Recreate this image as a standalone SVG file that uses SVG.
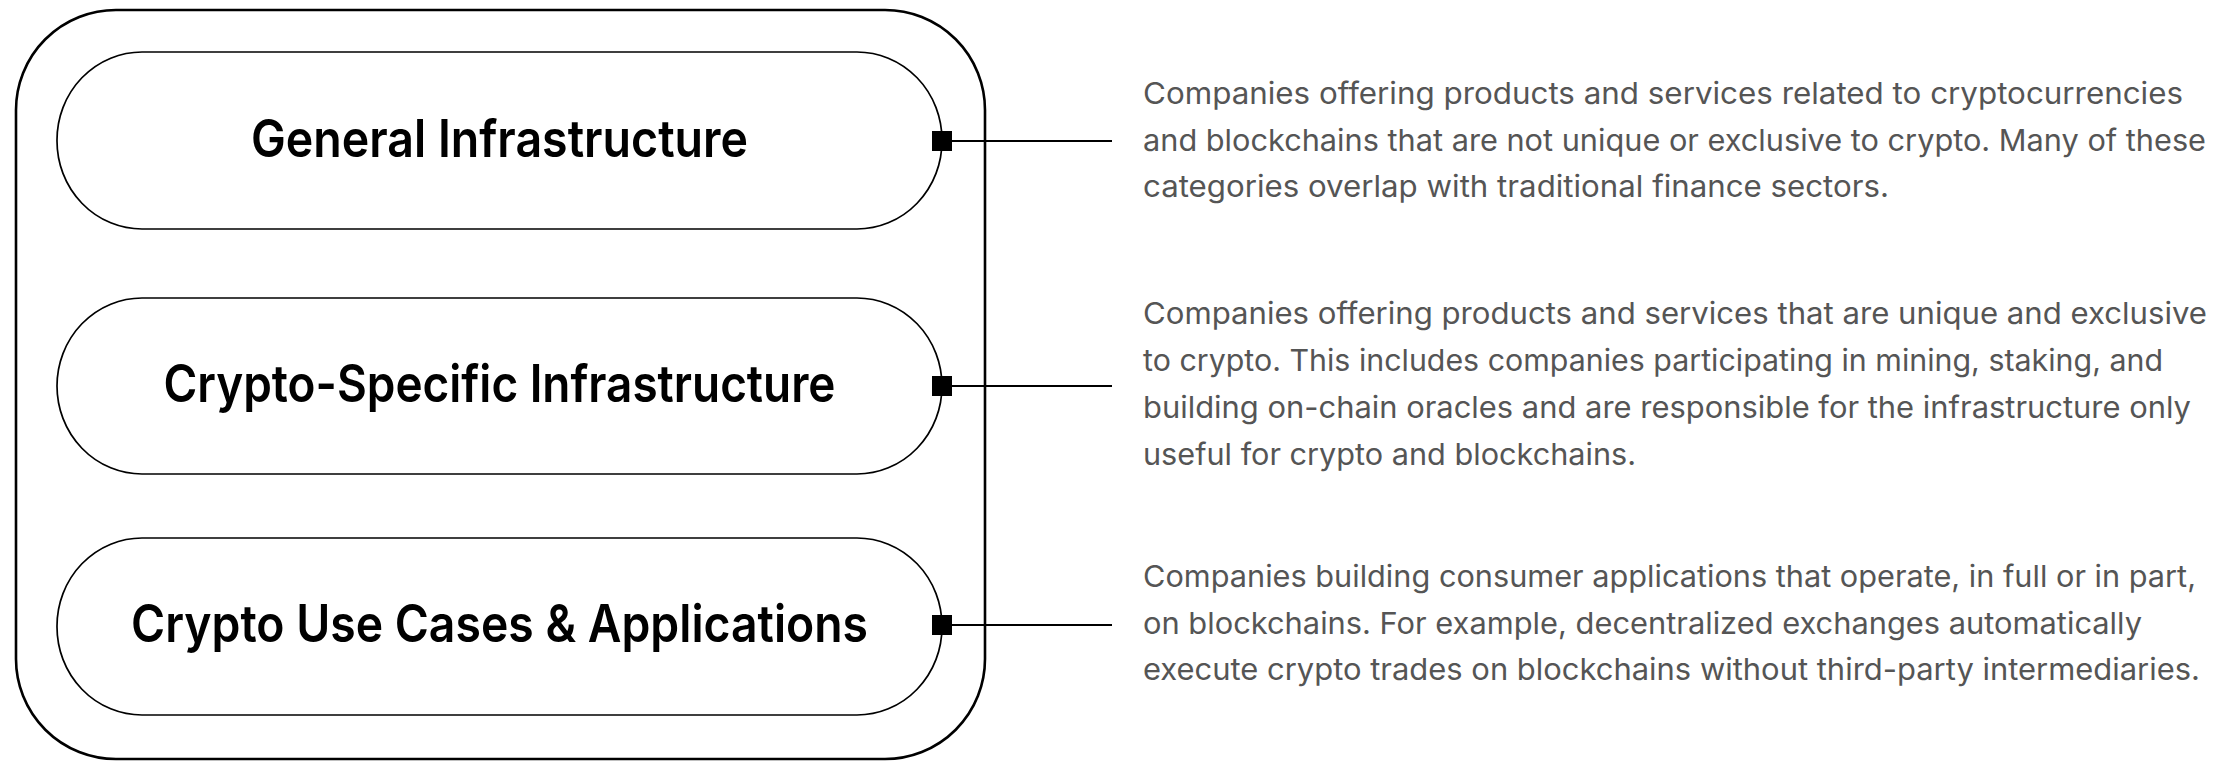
<svg xmlns="http://www.w3.org/2000/svg" width="2227" height="761" viewBox="0 0 2227 761">
<style>
.outer{fill:none;stroke:#000;stroke-width:2.6}
.pill{fill:#fff;stroke:#000;stroke-width:1.7}
.label{font-family:Inter,"Liberation Sans",sans-serif;font-weight:600;font-size:52px;fill:#000;text-anchor:middle}
.desc{font-family:Inter,"Liberation Sans",sans-serif;font-weight:400;font-size:30px;fill:#555555}
.conn{stroke:#000;stroke-width:1.8;fill:none}
.dot{fill:#000}
</style>
<rect width="2227" height="761" fill="#fff"/>
<g id="container">
<rect class="outer" x="16" y="10" width="969" height="749" rx="100" ry="100"/>
</g>
<g id="node-general">
<rect class="pill" x="57" y="52" width="885" height="177" rx="85" ry="88"/>
<text class="label" x="499.5" y="157" textLength="497" lengthAdjust="spacingAndGlyphs">General Infrastructure</text>
</g>
<g id="node-crypto-specific">
<rect class="pill" x="57" y="298" width="885" height="176" rx="85" ry="88"/>
<text class="label" x="499.5" y="402" textLength="672" lengthAdjust="spacingAndGlyphs">Crypto-Specific Infrastructure</text>
</g>
<g id="node-use-cases">
<rect class="pill" x="57" y="538" width="885" height="177" rx="85" ry="88"/>
<text class="label" x="499.5" y="642" textLength="737" lengthAdjust="spacingAndGlyphs">Crypto Use Cases &amp; Applications</text>
</g>
<g id="connectors">
<line class="conn" x1="942" y1="141" x2="1112" y2="141"/>
<rect class="dot" x="932" y="131" width="20" height="20"/>
<line class="conn" x1="942" y1="386" x2="1112" y2="386"/>
<rect class="dot" x="932" y="376" width="20" height="20"/>
<line class="conn" x1="942" y1="625" x2="1112" y2="625"/>
<rect class="dot" x="932" y="615" width="20" height="20"/>
</g>
<g id="desc-general">
<text class="desc" x="1143" y="104" textLength="1040" lengthAdjust="spacingAndGlyphs">Companies offering products and services related to cryptocurrencies</text>
<text class="desc" x="1143" y="151" textLength="1063" lengthAdjust="spacingAndGlyphs">and blockchains that are not unique or exclusive to crypto. Many of these</text>
<text class="desc" x="1143" y="197" textLength="746" lengthAdjust="spacingAndGlyphs">categories overlap with traditional finance sectors.</text>
</g>
<g id="desc-crypto-specific">
<text class="desc" x="1143" y="324" textLength="1064" lengthAdjust="spacingAndGlyphs">Companies offering products and services that are unique and exclusive</text>
<text class="desc" x="1143" y="371" textLength="1020" lengthAdjust="spacingAndGlyphs">to crypto. This includes companies participating in mining, staking, and</text>
<text class="desc" x="1143" y="418" textLength="1048" lengthAdjust="spacingAndGlyphs">building on-chain oracles and are responsible for the infrastructure only</text>
<text class="desc" x="1143" y="465" textLength="493" lengthAdjust="spacingAndGlyphs">useful for crypto and blockchains.</text>
</g>
<g id="desc-use-cases">
<text class="desc" x="1143" y="587" textLength="1053" lengthAdjust="spacingAndGlyphs">Companies building consumer applications that operate, in full or in part,</text>
<text class="desc" x="1143" y="634" textLength="999" lengthAdjust="spacingAndGlyphs">on blockchains. For example, decentralized exchanges automatically</text>
<text class="desc" x="1143" y="680" textLength="1057" lengthAdjust="spacingAndGlyphs">execute crypto trades on blockchains without third-party intermediaries.</text>
</g>
</svg>
